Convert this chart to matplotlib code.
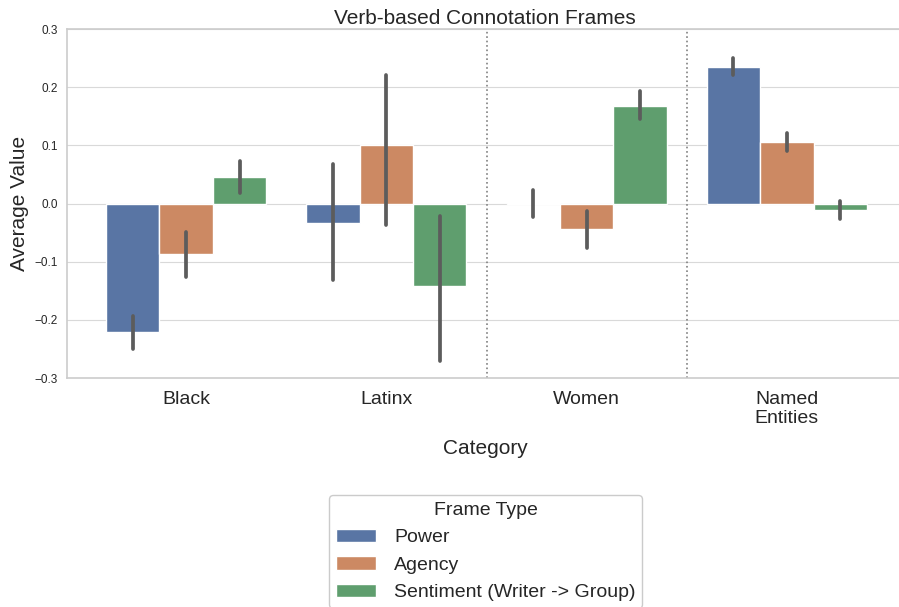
import numpy as np
import matplotlib
matplotlib.use('Agg')
import matplotlib.pyplot as plt
import seaborn as sns

# data
categories = ['Black', 'Latinx', 'Women', 'Named\nEntities']
frame_types = ['Power', 'Agency', 'Sentiment (Writer -> Group)']

power = [-0.220, -0.033, 0.001, 0.235]
power_lo = [-0.250, -0.132, -0.023, 0.221]
power_hi = [-0.193, 0.069, 0.023, 0.251]

agency = [-0.087, 0.100, -0.043, 0.106]
agency_lo = [-0.126, -0.036, -0.077, 0.090]
agency_hi = [-0.048, 0.221, -0.013, 0.122]

sentiment = [0.045, -0.141, 0.168, -0.011]
sentiment_lo = [0.018, -0.270, 0.145, -0.026]
sentiment_hi = [0.073, -0.022, 0.193, 0.004]

sns.set_style('whitegrid')
plt.rcParams['font.family'] = ['Liberation Sans', 'DejaVu Sans']

colors = sns.color_palette('deep', 3, desat=0.75)

fig = plt.figure(figsize=(8.99, 6.07), dpi=100)
ax = fig.add_axes([0.0745, 0.377, 0.93, 0.575])

series = [(power, power_lo, power_hi),
          (agency, agency_lo, agency_hi),
          (sentiment, sentiment_lo, sentiment_hi)]
x = np.arange(len(categories))
w = 0.8 / 3
for i, (vals, lo, hi) in enumerate(series):
    vals = np.array(vals)
    xs = x - 0.4 + w / 2 + i * w
    ax.bar(xs, vals, width=w, color=colors[i], edgecolor='white',
           linewidth=1, label=frame_types[i], zorder=2)
    for xi, l, h in zip(xs, lo, hi):
        ax.plot([xi, xi], [l, h], color='0.36', lw=2.7,
                solid_capstyle='round', zorder=3)

for xv in [1.5, 2.5]:
    ax.axvline(xv, color='gray', ls=':', lw=1.2, zorder=1)

ax.set_xlim(-0.595, 3.58)
ax.set_ylim(-0.3, 0.3)
ax.set_yticks(np.arange(-0.3, 0.31, 0.1))
ax.tick_params(axis='y', labelsize=8.5, pad=3)
ax.set_xticks(x)
ax.set_xticklabels(categories, fontsize=14, linespacing=1.1)
ax.tick_params(axis='x', pad=6)
ax.grid(axis='x', visible=False)
ax.grid(axis='y', color='0.85', lw=0.8)
ax.spines['right'].set_visible(False)
for s in ['left', 'top', 'bottom']:
    ax.spines[s].set_color('0.8')
    ax.spines[s].set_linewidth(1.2)

ax.set_title('Verb-based Connotation Frames', fontsize=15, pad=4)
ax.set_xlabel('Category', fontsize=15, labelpad=9)
ax.set_ylabel('Average Value', fontsize=15, labelpad=4)

leg = fig.legend(loc='upper center', bbox_to_anchor=(0.540, 0.2),
                 title='Frame Type', fontsize=14, title_fontsize=14,
                 frameon=True, fancybox=True, handlelength=2.1,
                 handleheight=0.7, handletextpad=0.9,
                 borderpad=0.35, labelspacing=0.5)
leg.get_frame().set_edgecolor('0.75')

fig.savefig('out.png', dpi=100)
